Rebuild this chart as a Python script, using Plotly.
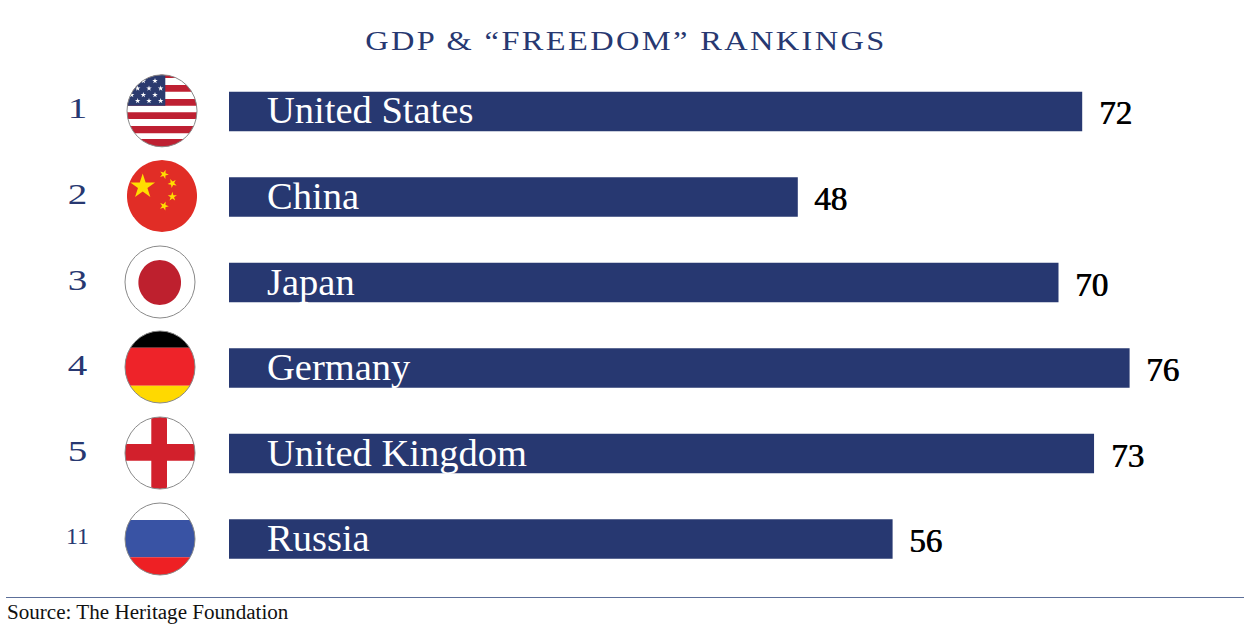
import json
import numpy as np
import plotly.graph_objects as go

# ---- data ----
countries = ["United States", "China", "Japan", "Germany", "United Kingdom", "Russia"]
gdp_ranks = ["1", "2", "3", "4", "5", "11"]
freedom_scores = [72, 48, 70, 76, 73, 56]
title_text = "GDP &amp; “FREEDOM” RANKINGS"
source_text = "Source: The Heritage Foundation"

W, H = 1250, 625
NAVY = "#273871"
SERIF = "Liberation Serif"
X0, PX_PER_UNIT = 229.0, 11.85
TOP, BOTTOM = 68.75, 581.75


def px(x):
    return x / W


def py(y):
    return 1 - y / H


def path(points):
    return "M" + " L".join(f"{px(x):.5f},{py(y):.5f}" for x, y in points) + " Z"


def clip_band(c, y0, y1, xmin=None, xmax=None):
    """Polygon: the part of an elliptical disc between y0 and y1 (and optional x limits)."""
    cx, cy, rx, ry = c
    y0, y1 = max(y0, cy - ry), min(y1, cy + ry)
    ys = np.linspace(y0, y1, 60)
    half = rx * np.sqrt(np.clip(1 - ((ys - cy) / ry) ** 2, 0, 1))
    left, right = cx - half, cx + half
    if xmin is not None:
        left = np.clip(left, xmin, None)
        right = np.clip(right, xmin, None)
    if xmax is not None:
        left = np.clip(left, None, xmax)
        right = np.clip(right, None, xmax)
    return list(zip(left, ys)) + list(zip(right[::-1], ys[::-1]))


def star(cx, cy, r, rot=0.0):
    angs = np.deg2rad(-90 + rot + np.arange(10) * 36)
    rad = np.where(np.arange(10) % 2 == 0, r, r * 0.382)
    return list(zip(cx + rad * np.cos(angs), cy + rad * np.sin(angs)))


shapes = []


def poly(points, fill):
    shapes.append(dict(type="path", xref="paper", yref="paper", path=path(points),
                       fillcolor=fill, line=dict(width=0), layer="above"))


def outline(c, color="#8A8A8A"):
    cx, cy, rx, ry = c
    shapes.append(dict(type="circle", xref="paper", yref="paper",
                       x0=px(cx - rx), x1=px(cx + rx), y0=py(cy + ry), y1=py(cy - ry),
                       line=dict(color=color, width=1), fillcolor="rgba(0,0,0,0)", layer="above"))


# United States
c = (162, 110.8, 35, 36)
red = "#BE2032"
for a, b in [(74, 78), (85, 91.7), (99, 105.7), (112.3, 119), (126, 133.3), (139, 147)]:
    poly(clip_band(c, a, b), red)
poly(clip_band(c, 74, 105.7, xmax=165.3), "#2B3A6E")
for zx, zy in [(280, 48), (315, 48), (263, 70), (297, 70), (332, 70), (245, 90), (280, 90),
               (315, 90), (263, 108), (297, 108), (332, 108)]:
    poly(star(50 + zx / 3, 65 + zy / 3, 2.9), "#FFFFFF")
outline(c)

# China
c = (162, 196, 35, 36)
poly(clip_band(c, 160, 232), "#E12D26")
poly(star(142.7, 186.5, 13), "#FFDE00")
for zx, zy, rot in [(342, 328, 20), (367, 355, 45), (367, 395, 0), (342, 423, 20)]:
    poly(star(50 + zx / 3, 65 + zy / 3, 4.8, rot), "#FFDE00")

# Japan
c = (160, 282, 35, 36)
outline(c)
poly(clip_band((159.7, 282.5, 21.3, 22.5), 259, 306), "#BE202E")

# Germany
c = (160, 367, 35, 36)
poly(clip_band(c, 331, 347.7), "#000000")
poly(clip_band(c, 347.7, 385.7), "#EE2329")
poly(clip_band(c, 385.7, 403.3), "#FFD900")
outline(c)

# England
c = (160, 453, 35, 36)
poly(clip_band(c, 417, 489, xmin=151.3, xmax=167), "#D2202C")
poly(clip_band(c, 444, 460.7), "#D2202C")
outline(c)

# Russia
c = (160, 539, 35, 36)
poly(clip_band(c, 520, 557.3), "#3953A4")
poly(clip_band(c, 557.3, 575), "#EE2024")
outline(c)

# rule above the source
shapes.append(dict(type="line", xref="paper", yref="paper", x0=px(6), x1=px(1244),
                   y0=py(597.5), y1=py(597.5), line=dict(color="#5C6F99", width=1), layer="above"))

fig = go.Figure(go.Bar(x=freedom_scores, y=countries, orientation="h",
                       marker=dict(color=NAVY, line=dict(width=0)), hoverinfo="x+y"))

annotations = []
for name, rank, score in zip(countries, gdp_ranks, freedom_scores):
    annotations.append(dict(x=0, y=name, xref="x", yref="y", text=name, showarrow=False,
                            xanchor="left", xshift=36, yshift=1,
                            font=dict(family=SERIF, size=38.5, color="#FFFFFF")))
    annotations.append(dict(x=score, y=name, xref="x", yref="y", text=str(score), showarrow=False,
                            xanchor="left", xshift=14.5, yshift=-2,
                            font=dict(family=SERIF, size=33, color="#000000",
                                      shadow="0.8px 0 0 #000000")))
    annotations.append(dict(x=px(77.5), y=name, xref="paper", yref="y", text=rank, showarrow=False,
                            xanchor="center", yshift=3.5,
                            font=dict(family=SERIF, size=30 if rank != "11" else 24, color=NAVY)))
annotations.append(dict(x=px(6), y=py(612), xref="paper", yref="paper", text=source_text, showarrow=False,
                        xanchor="left", yanchor="middle", xshift=-1,
                        font=dict(family=SERIF, size=21.1, color="#111111")))

fig.update_layout(
    width=W, height=H, autosize=False,
    margin=dict(l=0, r=0, t=0, b=0, pad=0),
    paper_bgcolor="#FFFFFF", plot_bgcolor="#FFFFFF",
    showlegend=False, bargap=1 - 39.5 / 85.5,
    title=dict(text=title_text, x=626 / W, xanchor="center", xref="paper",
               y=py(41), yanchor="middle", yref="paper",
               font=dict(family=SERIF, size=27, color=NAVY)),
    xaxis=dict(domain=[X0 / W, 1], range=[0, (W - X0) / PX_PER_UNIT], visible=False, fixedrange=True),
    yaxis=dict(domain=[py(BOTTOM), py(TOP)], autorange="reversed", type="category",
               categoryorder="array", categoryarray=countries, visible=False, fixedrange=True),
    shapes=shapes, annotations=annotations,
)

# The reference lettering is a wide engraved face: widen the real text with CSS.
post = """
document.body.style.margin = '0';
function widen(el, s) {
  el.style.transformBox = 'fill-box';
  el.style.transformOrigin = 'center';
  el.style.transform = 'scaleX(' + s + ')';
}
document.querySelectorAll('.gtitle').forEach(function (t) {
  t.style.letterSpacing = '2px';
  widen(t, 1.2);
});
var single = %s;
document.querySelectorAll('.annotation-text').forEach(function (t) {
  if (single.indexOf(t.textContent) >= 0) { widen(t, 1.3); }
});
""" % json.dumps([r for r in gdp_ranks if r != "11"])

fig.write_html("out.html", config={"displayModeBar": False}, post_script=post)
